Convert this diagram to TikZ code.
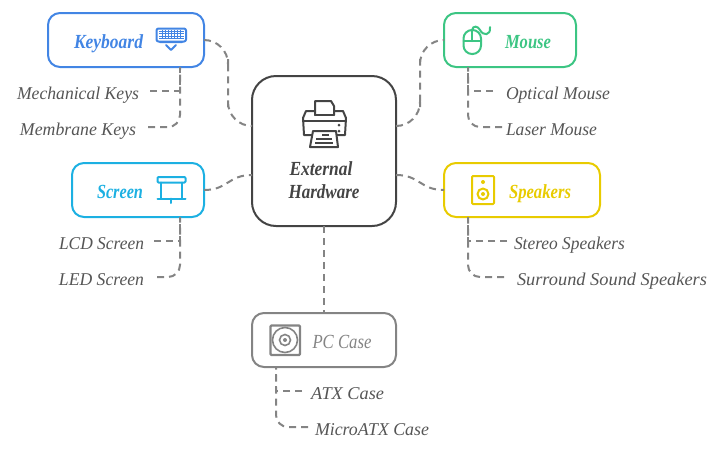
\documentclass[tikz,border=0pt]{standalone}
\usepackage{graphicx}
\usepackage{fontspec}
\setmainfont{Liberation Serif}
\newcommand{\fitw}[2]{\resizebox{#1pt}{\height}{#2}}
\definecolor{kbc}{HTML}{4285E4}
\definecolor{moc}{HTML}{3CC583}
\definecolor{scc}{HTML}{1CB0E2}
\definecolor{spc}{HTML}{E8CB00}
\definecolor{pcc}{HTML}{848484}
\definecolor{huc}{HTML}{444444}
\definecolor{lec}{HTML}{555555}
\tikzset{
  x=1pt,y=-1pt,
  boxn/.style={draw,line width=2pt,rounded corners=12pt,minimum width=#1,minimum height=54pt,inner sep=0pt,outer sep=0pt},
  hubn/.style={draw=huc,line width=2pt,rounded corners=24pt,minimum width=144pt,minimum height=150pt,inner sep=0pt,outer sep=0pt},
  conn/.style={draw=pcc,line width=2pt,dash pattern=on 7pt off 5pt},
  title/.style={inner sep=0pt,anchor=base,font=\fontsize{20}{22}\selectfont\itshape\bfseries},
  leaf/.style={inner ysep=0pt,outer sep=0pt,text height=18pt,text depth=1pt,text=lec,font=\fontsize{18}{22}\selectfont\itshape},
  icon/.style={line width=2pt,line join=round,line cap=round}
}
\begin{document}
\begin{tikzpicture}
\useasboundingbox (0,0) rectangle (726,451);
% boxes
\node[hubn] (hub) at (324,151) {};
\node[boxn=156pt,draw=kbc] (kb) at (126,40) {};
\node[boxn=132pt,draw=moc] (mo) at (510,40) {};
\node[boxn=132pt,draw=scc] (sc) at (138,190) {};
\node[boxn=156pt,draw=spc] (sp) at (522,190) {};
\node[boxn=144pt,draw=pcc] (pc) at (324,340) {};
% titles
\node[title,text=kbc] (kbt) at (108.5,48) {\fitw{69}{Keyboard}};
\node[title,text=moc] (mot) at (528,48) {\fitw{46}{Mouse}};
\node[title,text=scc] (sct) at (120,198) {\fitw{46}{Screen}};
\node[title,text=spc] (spt) at (540,198) {\fitw{62}{Speakers}};
\node[title,text=pcc,font=\fontsize{20}{22}\selectfont\itshape] (pct) at (342,348) {\fitw{59}{PC Case}};
\node[title,text=huc] (hua) at (321,175) {\fitw{63}{External}};
\node[title,text=huc] (hub2) at (324,198) {\fitw{71}{Hardware}};
% leaves
\node[leaf,inner xsep=11pt] (l1) at (78,91) {\fitw{122}{Mechanical Keys}};
\node[leaf,inner xsep=12pt] (l2) at (78,127) {\fitw{116}{Membrane Keys}};
\node[leaf,inner xsep=13pt] (l3) at (558,91) {\fitw{104}{Optical Mouse}};
\node[leaf,inner xsep=4pt] (l4) at (551.5,127) {\fitw{91}{Laser Mouse}};
\node[leaf,inner xsep=10pt] (l5) at (101.5,241) {\fitw{85}{LCD Screen}};
\node[leaf,inner xsep=13pt] (l6) at (101.5,277) {\fitw{85}{LED Screen}};
\node[leaf,inner xsep=7pt] (l7) at (569.5,241) {\fitw{111}{Stereo Speakers}};
\node[leaf,inner xsep=13pt] (l8) at (612,277) {\fitw{190}{Surround Sound Speakers}};
\node[leaf,inner xsep=9pt] (l9) at (347.5,391) {\fitw{73}{ATX Case}};
\node[leaf,inner xsep=7pt] (l10) at (372,427) {\fitw{114}{MicroATX Case}};
% helper points
\coordinate (hnw) at (252,126);
\coordinate (hne) at (396,126);
\coordinate (hsw) at (252,175);
\coordinate (hse) at (396,175);
\coordinate (kbm) at (228,83);
\coordinate (mom) at (420,83);
\coordinate (kbs) at (180,67);
\coordinate (mos) at (468,67);
\coordinate (scs) at (180,217);
\coordinate (sps) at (468,217);
\coordinate (pcs) at (276,367);
\coordinate (c1) at (228,190);
\coordinate (c2) at (228,175);
\coordinate (c3) at (420,175);
\coordinate (c4) at (420,190);
% main connectors
\draw[conn,rounded corners=24pt] (kb.east) -| (kbm) |- (hnw);
\draw[conn,rounded corners=24pt] (hne) -| (mom) |- (mo.west);
\draw[conn] (sc.east) .. controls (c1) and (c2) .. (hsw);
\draw[conn] (hse) .. controls (c3) and (c4) .. (sp.west);
\draw[conn] (hub.south) -- (pc.north);
% leaf connectors
\draw[conn] (l1.east) -| (kbs);
\draw[conn,rounded corners=12pt] (l2.east) -| (kbs);
\draw[conn] (l3.west) -| (mos);
\draw[conn,rounded corners=12pt] (l4.west) -| (mos);
\draw[conn] (l5.east) -| (scs);
\draw[conn,rounded corners=12pt] (l6.east) -| (scs);
\draw[conn] (l7.west) -| (sps);
\draw[conn,rounded corners=12pt] (l8.west) -| (sps);
\draw[conn] (l9.west) -| (pcs);
\draw[conn,rounded corners=12pt] (l10.west) -| (pcs);
% keyboard icon
\draw[icon,draw=kbc,rounded corners=2pt] (156.5,28.5) rectangle (186,41.5);
\draw[kbc,line width=.8pt] (159,31) -- (184,31) (159,33.5) -- (184,33.5) (159,36) -- (184,36) (159,38.5) -- (184,38.5);
\foreach \xx in {162,165,168,171,174,177,180} \draw[kbc,line width=.6pt] (\xx,30) -- (\xx,39);
\draw[icon,draw=kbc] (160,42) -- (182,42) (166,45) -- (171,50) -- (176,45);
% mouse icon
\draw[icon,draw=moc,rounded corners=8.5pt] (463.5,30) rectangle (481,54);
\draw[icon,draw=moc] (463.5,41) -- (481,41) (472,30) -- (472,41);
\draw[icon,draw=moc] (472,30) .. controls (473,25) and (478,26) .. (480,30) .. controls (483,36) and (491,36) .. (490,27);
% screen icon
\draw[icon,draw=scc,rounded corners=1pt] (157.5,177) rectangle (185.5,182.5);
\draw[icon,draw=scc] (161,182.5) -- (161,198) (182,182.5) -- (182,198) (157.5,198.5) -- (185.5,198.5) (171,198.5) -- (171,203);
% speaker icon
\draw[icon,draw=spc,rounded corners=1pt] (472,176) rectangle (494,204);
\draw[icon,draw=spc] (483,194) circle[radius=5.5pt];
\fill[spc] (483,194) circle[radius=2pt] (483,182) circle[radius=2pt];
% pc icon
\draw[icon,draw=pcc,line width=2.4pt,rounded corners=1pt] (270.5,325.5) rectangle (300,355);
\draw[pcc,line width=1.6pt] (285,340) circle[radius=12.5pt];
\draw[pcc,line width=1.6pt] (285,340) circle[radius=5.5pt];
\fill[pcc] (285,340) circle[radius=2pt];
% printer icon
\draw[icon,draw=huc] (315,115) -- (315,101) -- (331,101) -- (334,106) -- (334,115);
\draw[icon,draw=huc] (315,111) -- (306,111) -- (303,118) -- (304,135) -- (312,135);
\draw[icon,draw=huc] (334,111) -- (343,111) -- (346,118) -- (345,135) -- (337,135);
\draw[icon,draw=huc] (315,115) -- (334,115);
\draw[icon,draw=huc] (304,121) -- (345,121);
\draw[icon,draw=huc] (313,131) -- (336,131) -- (338,147) -- (310,147) -- cycle;
\draw[huc,line width=1.5pt] (322,135) -- (329,135) (316,139) -- (332,139) (315,143) -- (333,143);
\fill[huc] (339,125) circle[radius=1.5pt] (339,131) circle[radius=1.5pt];
\end{tikzpicture}
\end{document}
